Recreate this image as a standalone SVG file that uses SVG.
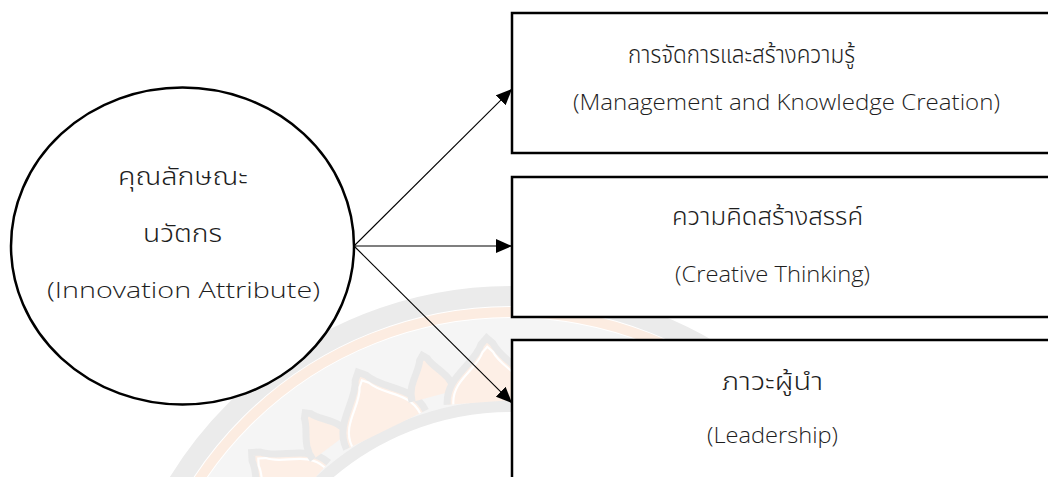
<svg xmlns="http://www.w3.org/2000/svg" width="1048" height="477" viewBox="0 0 1048 477">
<style>
.bg{fill:#ffffff}
.node{fill:#ffffff;stroke:#000000;stroke-width:2.5}
.t{font-family:"Open Sans","Noto Sans Thai","Noto Sans",sans-serif;font-weight:300;font-size:22px;fill:#1e1e1e;text-anchor:middle}
.th{font-family:"Noto Sans Thai","Noto Sans",sans-serif;font-weight:300;font-size:25px;fill:#1e1e1e;text-anchor:middle}
.conn{stroke:#000000;stroke-width:1.1;fill:none;marker-end:url(#ah)}
.wg{fill:none;stroke:#ebebeb}
.pet{fill:#fdefe6;stroke:#e9e9e9;stroke-width:7}
.petw{fill:none;stroke:#ffffff;stroke-width:2.5}
</style>
<defs>
<marker id="ah" markerUnits="userSpaceOnUse" markerWidth="18" markerHeight="14" refX="16" refY="7" orient="auto">
<path d="M0,0 L16,7 L0,14 Z" fill="#000000"/>
</marker>
<path id="bigp" d="M-44,0 C-44,-28 -14,-38 -6,-58 L0,-64 L6,-58 C14,-38 44,-28 44,0"/>
<path id="smp" d="M-22,0 C-22,-18 -8,-26 -4,-38 L0,-42 L4,-38 C8,-26 22,-18 22,0"/>
</defs>
<rect class="bg" x="0" y="0" width="1048" height="477"/>
<g id="watermark" transform="translate(511,686)">
<circle r="390" class="wg" stroke-width="20"/>
<circle r="374" fill="none" stroke="#fcece1" stroke-width="10"/>
<circle r="324" fill="none" stroke="#f5f5f5" stroke-width="88"/>
<circle r="280" class="wg" stroke-width="12"/>
<g>
<use href="#bigp" class="pet" transform="rotate(-70) translate(0,-285)"/>
<use href="#bigp" class="petw" transform="rotate(-70) translate(0,-285) scale(0.86)"/>
<use href="#smp" class="pet" transform="rotate(-59) translate(0,-300)"/>
<use href="#bigp" class="pet" transform="rotate(-48) translate(0,-285)"/>
<use href="#bigp" class="petw" transform="rotate(-48) translate(0,-285) scale(0.86)"/>
<use href="#smp" class="pet" transform="rotate(-37) translate(0,-300)"/>
<use href="#bigp" class="pet" transform="rotate(-26) translate(0,-285)"/>
<use href="#bigp" class="petw" transform="rotate(-26) translate(0,-285) scale(0.86)"/>
<use href="#smp" class="pet" transform="rotate(-15) translate(0,-300)"/>
<use href="#bigp" class="pet" transform="rotate(-4) translate(0,-285)"/>
<use href="#bigp" class="petw" transform="rotate(-4) translate(0,-285) scale(0.86)"/>
<use href="#smp" class="pet" transform="rotate(7) translate(0,-300)"/>
<use href="#bigp" class="pet" transform="rotate(18) translate(0,-285)"/>
<use href="#bigp" class="petw" transform="rotate(18) translate(0,-285) scale(0.86)"/>
<use href="#smp" class="pet" transform="rotate(29) translate(0,-300)"/>
<use href="#bigp" class="pet" transform="rotate(40) translate(0,-285)"/>
</g>
</g>
<g id="connectors">
<line class="conn" x1="354" y1="246" x2="512" y2="89"/>
<line class="conn" x1="354" y1="246" x2="512" y2="246"/>
<line class="conn" x1="354" y1="246" x2="512" y2="403"/>
</g>
<g id="innovation-attribute">
<ellipse class="node" cx="182.5" cy="246" rx="171.5" ry="158.5"/>
<text class="th" x="183" y="185" textLength="130" lengthAdjust="spacingAndGlyphs">คุณลักษณะ</text>
<text class="th" x="182.5" y="242" textLength="79" lengthAdjust="spacingAndGlyphs">นวัตกร</text>
<text class="t" x="183.5" y="298" textLength="273" lengthAdjust="spacingAndGlyphs">(Innovation Attribute)</text>
</g>
<g id="management-knowledge">
<rect class="node" x="512" y="13" width="560" height="140"/>
<text class="th" x="741.5" y="63" textLength="227" lengthAdjust="spacingAndGlyphs">การจัดการและสร้างความรู้</text>
<text class="t" x="786.5" y="110" textLength="427" lengthAdjust="spacingAndGlyphs">(Management and Knowledge Creation)</text>
</g>
<g id="creative-thinking">
<rect class="node" x="512" y="177" width="560" height="140"/>
<text class="th" x="767.5" y="225" textLength="191" lengthAdjust="spacingAndGlyphs">ความคิดสร้างสรรค์</text>
<text class="t" x="772.5" y="282" textLength="195" lengthAdjust="spacingAndGlyphs">(Creative Thinking)</text>
</g>
<g id="leadership">
<rect class="node" x="512" y="340" width="560" height="200"/>
<text class="th" x="772.5" y="390" textLength="101" lengthAdjust="spacingAndGlyphs">ภาวะผู้นำ</text>
<text class="t" x="772.5" y="443" textLength="131" lengthAdjust="spacingAndGlyphs">(Leadership)</text>
</g>
</svg>
